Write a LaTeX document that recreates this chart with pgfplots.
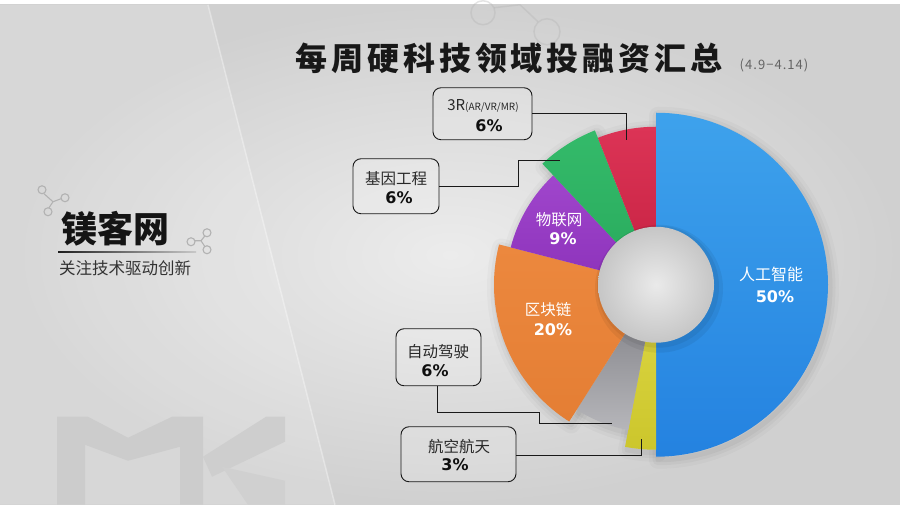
\documentclass[border=0pt]{standalone}
\usepackage{fontspec}
\setmainfont{Noto Sans CJK SC}
\newfontfamily\pct{DejaVu Sans}
\usepackage{pgfplots}
\usepackage{pgfplotstable}
\pgfplotsset{compat=1.18}
% sector colours (top / bottom of gradient)
\definecolor{sec0t}{RGB}{62,162,236}\definecolor{sec0b}{RGB}{36,130,224}
\definecolor{sec1t}{RGB}{222,216,70}\definecolor{sec1b}{RGB}{204,198,44}
\definecolor{sec2t}{RGB}{122,122,128}\definecolor{sec2b}{RGB}{182,182,186}
\definecolor{sec3t}{RGB}{236,136,62}\definecolor{sec3b}{RGB}{228,126,52}
\definecolor{sec4t}{RGB}{160,70,204}\definecolor{sec4b}{RGB}{140,50,186}
\definecolor{sec5t}{RGB}{52,186,106}\definecolor{sec5b}{RGB}{40,170,92}
\definecolor{sec6t}{RGB}{220,52,86}\definecolor{sec6b}{RGB}{196,32,64}
\definecolor{bgin}{RGB}{236,236,236}\definecolor{bgout}{RGB}{208,208,208}
\definecolor{logoA}{RGB}{204,204,204}\definecolor{logoB}{RGB}{206,206,206}\definecolor{logoC}{RGB}{208,208,208}
\definecolor{deco}{RGB}{178,178,178}
\definecolor{titlec}{RGB}{24,24,24}
\definecolor{datec}{RGB}{100,100,100}
\definecolor{brandc}{RGB}{20,20,20}
\definecolor{lineA}{RGB}{30,30,30}\definecolor{lineB}{RGB}{200,200,200}
\definecolor{subc}{RGB}{50,50,50}
\definecolor{holein}{RGB}{234,234,234}\definecolor{holeout}{RGB}{198,198,198}
\definecolor{boxc}{RGB}{25,25,25}
\definecolor{pctc}{RGB}{15,15,15}
\definecolor{txt}{RGB}{40,40,40}
\newcommand\secpath[1]{(axis cs:656,-280) -- ++(\csname secA#1\endcsname:\csname secR#1\endcsname pt) arc[start angle=\csname secA#1\endcsname, end angle=\csname secB#1\endcsname, radius=\csname secR#1\endcsname pt] -- cycle}
\begin{document}
\begin{tikzpicture}
\pgfplotstableread{
pct r
50 172
3 165
6 148
20 162
9 150
6 166
6 158
}\sectors
\gdef\cum{0}
\foreach \i in {0,...,6}{%
  \pgfplotstablegetelem{\i}{pct}\of\sectors
  \pgfmathsetmacro{\p}{\pgfplotsretval}%
  \pgfplotstablegetelem{\i}{r}\of\sectors
  \expandafter\xdef\csname secR\i\endcsname{\pgfplotsretval}%
  \pgfmathsetmacro{\aa}{90-3.6*\cum}%
  \pgfmathsetmacro{\bb}{90-3.6*(\cum+\p)}%
  \expandafter\xdef\csname secA\i\endcsname{\aa}%
  \expandafter\xdef\csname secB\i\endcsname{\bb}%
  \pgfmathsetmacro{\newcum}{\cum+\p}%
  \xdef\cum{\newcum}%
}
\begin{axis}[x=1pt,y=1pt,xmin=0,xmax=900,ymin=-500,ymax=0,hide axis,clip=false]
% background
\shade[inner color=bgin, outer color=bgout] (axis cs:0,0) rectangle (axis cs:900,-500);
\fill[white,opacity=0.15] (axis cs:0,0) -- (axis cs:208,0) -- (axis cs:335,-500) -- (axis cs:0,-500) -- cycle;
\draw[white,opacity=0.35,line width=1.5pt] (axis cs:208,0) -- (axis cs:335,-500);
% MK logo
\fill[logoA] (axis cs:57,-500) -- (axis cs:57,-412) -- (axis cs:88,-412) -- (axis cs:128,-433) -- (axis cs:172,-412) -- (axis cs:203,-412) -- (axis cs:203,-500) -- (axis cs:180,-500) -- (axis cs:180,-442) -- (axis cs:128,-456) -- (axis cs:85,-440) -- (axis cs:85,-500) -- cycle;
\fill[logoB] (axis cs:203,-452) -- (axis cs:266,-412) -- (axis cs:285,-412) -- (axis cs:285,-437) -- (axis cs:212,-472) -- cycle;
\fill[logoC] (axis cs:222,-462) -- (axis cs:285,-476) -- (axis cs:285,-500) -- (axis cs:248,-500) -- cycle;
% molecule decorations
\begin{scope}[draw=deco, line width=1.1pt]
\draw (axis cs:42,-185) circle[radius=4pt] (axis cs:65,-193) circle[radius=4pt] (axis cs:48,-207) circle[radius=4pt];
\draw (axis cs:44,-189) -- (axis cs:53,-197) -- (axis cs:61,-194) (axis cs:53,-197) -- (axis cs:49,-203);
\draw (axis cs:191,-237) circle[radius=4pt] (axis cs:207,-228) circle[radius=4pt] (axis cs:207,-245) circle[radius=4pt];
\draw (axis cs:195,-236) -- (axis cs:201,-236) -- (axis cs:205,-231) (axis cs:201,-236) -- (axis cs:205,-242);
\end{scope}
\begin{scope}[draw=deco, line width=1.5pt, opacity=0.35]
\draw (axis cs:483,-8) circle[radius=12pt];
\draw (axis cs:547,-27) circle[radius=13pt];
\draw (axis cs:494,-3) -- (axis cs:520,0) (axis cs:520,0) -- (axis cs:538,-17);
\end{scope}
% title
\node[font=\fontsize{32}{32}\selectfont\bfseries\addfontfeatures{LetterSpace=12}, text=titlec] at (axis cs:509,-54) {每周硬科技领域投融资汇总};
\node[font=\fontsize{13}{13}\selectfont\addfontfeatures{LetterSpace=8}, text=datec] at (axis cs:774,-61) {(4.9−4.14)};
% brand
\node[font=\fontsize{36}{36}\selectfont\bfseries, text=brandc] at (axis cs:115,-224) {镁客网};
\shade[left color=lineA, right color=lineB] (axis cs:58,-246.5) rectangle (axis cs:196,-247.7);
\node[font=\fontsize{16.5}{16.5}\selectfont, text=subc] at (axis cs:125,-263) {关注技术驱动创新};
% shadows of the sectors
\pgfplotsinvokeforeach{0,...,6}{
  \draw[black,opacity=0.025,line width=18pt,line join=round,shift={(2pt,-3pt)}] \secpath{#1};
  \draw[black,opacity=0.03,line width=11pt,line join=round,shift={(2pt,-3pt)}] \secpath{#1};
  \draw[black,opacity=0.04,line width=5pt,line join=round,shift={(2pt,-3pt)}] \secpath{#1};
}
% sectors
\pgfplotsinvokeforeach{0,...,6}{
  \shade[top color=sec#1t, bottom color=sec#1b] \secpath{#1};
}
% hole
\fill[black,opacity=0.06] (axis cs:659,-284) circle[radius=64pt];
\fill[black,opacity=0.06] (axis cs:658,-282) circle[radius=61pt];
\shade[inner color=holein, outer color=holeout] (axis cs:656,-280) circle[radius=58pt];
% inside labels
\node[font=\fontsize{15.5}{15.5}\selectfont, text=white] at (axis cs:559,-215) {物联网};
\node[font=\pct\fontsize{16}{16}\selectfont\bfseries, text=white] at (axis cs:563,-234) {9\%};
\node[font=\fontsize{15.5}{15.5}\selectfont, text=white] at (axis cs:548,-305) {区块链};
\node[font=\pct\fontsize{16}{16}\selectfont\bfseries, text=white] at (axis cs:553,-325) {20\%};
\node[font=\fontsize{16}{16}\selectfont, text=white] at (axis cs:771,-270) {人工智能};
\node[font=\pct\fontsize{16}{16}\selectfont\bfseries, text=white] at (axis cs:775,-292) {50\%};
% label boxes
\begin{scope}[line width=0.9pt, draw=boxc]
\draw[rounded corners=8pt, fill=white, fill opacity=0.15] (axis cs:433,-83) rectangle (axis cs:532,-135);
\draw[rounded corners=8pt, fill=white, fill opacity=0.15] (axis cs:353,-154) rectangle (axis cs:439,-209);
\draw[rounded corners=8pt, fill=white, fill opacity=0.15] (axis cs:396,-324) rectangle (axis cs:481,-381);
\draw[rounded corners=8pt, fill=white, fill opacity=0.15] (axis cs:401,-422) rectangle (axis cs:516,-477);
\draw (axis cs:532,-109) -- (axis cs:626,-109) -- (axis cs:626,-135);
\draw (axis cs:439,-182) -- (axis cs:518,-182) -- (axis cs:518,-156) -- (axis cs:560,-156);
\draw (axis cs:437,-381) -- (axis cs:437,-408) -- (axis cs:539,-408) -- (axis cs:539,-419) -- (axis cs:612,-419);
\draw (axis cs:516,-451) -- (axis cs:641,-451) -- (axis cs:641,-434);
\end{scope}
\node[text=txt] at (axis cs:483,-101) {\fontsize{15}{15}\selectfont 3R\fontsize{10}{10}\selectfont(AR/VR/MR)};
\node[font=\pct\fontsize{16}{16}\selectfont\bfseries, text=pctc] at (axis cs:489,-121) {6\%};
\node[font=\fontsize{15.5}{15.5}\selectfont, text=txt] at (axis cs:396,-174) {基因工程};
\node[font=\pct\fontsize{16}{16}\selectfont\bfseries, text=pctc] at (axis cs:399,-193) {6\%};
\node[font=\fontsize{15.5}{15.5}\selectfont, text=txt] at (axis cs:438,-347) {自动驾驶};
\node[font=\pct\fontsize{16}{16}\selectfont\bfseries, text=pctc] at (axis cs:435,-366) {6\%};
\node[font=\fontsize{15.5}{15.5}\selectfont, text=txt] at (axis cs:459,-442) {航空航天};
\node[font=\pct\fontsize{16}{16}\selectfont\bfseries, text=pctc] at (axis cs:455,-460) {3\%};
\end{axis}
\end{tikzpicture}
\end{document}
